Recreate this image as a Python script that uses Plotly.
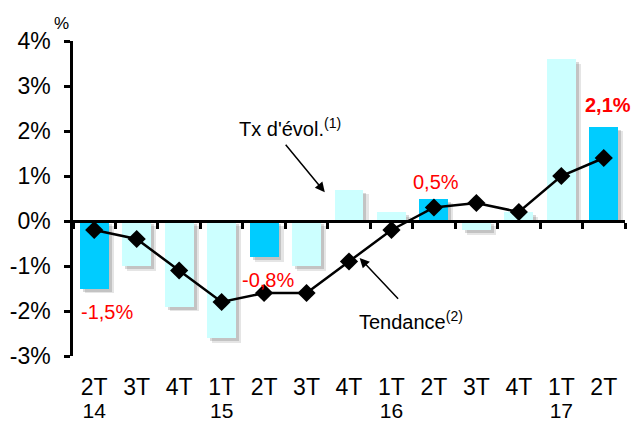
import plotly.graph_objects as go

quarters = ["2T", "3T", "4T", "1T", "2T", "3T", "4T", "1T", "2T", "3T", "4T", "1T", "2T"]
years = ["14", "", "", "15", "", "", "", "16", "", "", "", "17", ""]
taux = [-1.5, -1.0, -1.9, -2.6, -0.8, -1.0, 0.7, 0.2, 0.5, -0.2, 0.2, 3.6, 2.1]
tendance = [-0.2, -0.4, -1.1, -1.8, -1.6, -1.6, -0.9, -0.2, 0.3, 0.4, 0.2, 1.0, 1.4]
highlight = [True, False, False, False, True, False, False, False, True, False, False, False, True]
labels = {0: "-1,5%", 4: "-0,8%", 8: "0,5%", 12: "2,1%"}
yticks = [-3, -2, -1, 0, 1, 2, 3, 4]

n = len(quarters)
xs = list(range(n))
year_idx = [i for i, y in enumerate(years) if y]
BW = 0.68
DARK = "#00CCFF"
LIGHT = "#CCFFFF"
FONT = "Liberation Sans, Arial, sans-serif"

fig = go.Figure()

# drop shadows
for dx, dy, col in [(0.12, 0.11, "rgba(0,0,0,0.10)"), (0.07, 0.07, "rgba(0,0,0,0.15)")]:
    base = [(-dy if v < 0 else 0) for v in taux]
    top = [v - dy - b if v < 0 else max(v - dy, 0) for v, b in zip(taux, base)]
    fig.add_trace(go.Bar(x=xs, y=top, base=base, width=BW, offset=-BW / 2 + dx,
                         marker=dict(color=col, line=dict(width=0)),
                         hoverinfo="skip", showlegend=False))

fig.add_trace(go.Bar(x=xs, y=taux, width=BW,
                     marker=dict(color=[DARK if h else LIGHT for h in highlight], line=dict(width=0)),
                     showlegend=False))

fig.add_trace(go.Scatter(x=xs, y=tendance, mode="lines+markers",
                         line=dict(color="black", width=2.5),
                         marker=dict(symbol="diamond", size=14, color="black"),
                         showlegend=False))

# helper axes: year row and zero-line tick axis
fig.add_trace(go.Scatter(x=xs, y=[None] * n, xaxis="x2", showlegend=False, hoverinfo="skip"))
fig.add_trace(go.Scatter(x=xs, y=[None] * n, xaxis="x3", showlegend=False, hoverinfo="skip"))

rng = [-0.5, n - 0.5]
fig.update_layout(
    width=635, height=421,
    margin=dict(l=73, r=10, t=41, b=65),
    paper_bgcolor="white", plot_bgcolor="white",
    barmode="overlay", bargap=0,
    font=dict(family=FONT, size=23, color="black"),
    xaxis=dict(range=rng, tickmode="array", tickvals=xs, ticktext=quarters,
               showline=False, ticks="", showgrid=False, zeroline=False, automargin=False,
               tickfont=dict(size=23), ticklabelstandoff=15),
    xaxis2=dict(range=rng, overlaying="x", anchor="y", side="bottom", automargin=False,
                tickmode="array", tickvals=year_idx, ticktext=[years[i] for i in year_idx],
                showline=False, ticks="", showgrid=False, zeroline=False,
                tickfont=dict(size=21), ticklabelstandoff=40),
    xaxis3=dict(range=rng, overlaying="x", anchor="free", position=3 / 7, side="bottom",
                tickmode="array", tickvals=[i - 0.5 for i in range(n + 1)],
                showline=True, linecolor="black", linewidth=2.5, automargin=False,
                ticks="outside", ticklen=6, tickwidth=2.5, tickcolor="black",
                showgrid=False, zeroline=False, showticklabels=False),
    yaxis=dict(range=[-3, 4], tickmode="array", tickvals=yticks,
               ticktext=[f"{v}%" for v in yticks], automargin=False,
               showline=True, linecolor="black", linewidth=2.5,
               ticks="outside", ticklen=6, tickwidth=2.5, tickcolor="black",
               showgrid=False, zeroline=False, tickfont=dict(size=23),
               ticklabelstandoff=9),
)

annotations = []
label_pos = {0: (0.3, -2.02), 4: (4.1, -1.31), 8: (8.06, 0.87)}
for i, txt in labels.items():
    if i in label_pos:
        px_, py_ = label_pos[i]
        annotations.append(dict(x=px_, y=py_, xref="x", yref="y", text=txt,
                                showarrow=False, font=dict(size=20, color="#FF0000")))
    else:
        annotations.append(dict(x=1, y=2.58, xref="paper", yref="y", xanchor="right", xshift=8,
                                text=f"<b>{txt}</b>", showarrow=False,
                                font=dict(size=20, color="#FF0000")))

annotations += [
    dict(x=-0.02, y=1.0, xref="paper", yref="paper", text="%", showarrow=False,
         xanchor="center", yanchor="bottom", yshift=6, font=dict(size=17)),
    dict(x=4.6, y=2.07, xref="x", yref="y", text="Tx d'évol.<sup>(1)</sup>", showarrow=False,
         font=dict(size=20)),
    dict(x=7.45, y=-2.2, xref="x", yref="y", text="Tendance<sup>(2)</sup>", showarrow=False,
         font=dict(size=20)),
    dict(x=5.43, y=0.64, ax=4.48, ay=1.73, xref="x", yref="y", axref="x", ayref="y", text="",
         showarrow=True, arrowhead=2, arrowsize=1.3, arrowwidth=1.5, arrowcolor="black"),
    dict(x=6.25, y=-0.82, ax=7.19, ay=-1.76, xref="x", yref="y", axref="x", ayref="y", text="",
         showarrow=True, arrowhead=2, arrowsize=1.3, arrowwidth=1.5, arrowcolor="black"),
]
fig.update_layout(annotations=annotations)

fig.write_html("out.html", config={"displayModeBar": False},
               post_script="document.body.style.margin='0';document.body.style.padding='0';")
